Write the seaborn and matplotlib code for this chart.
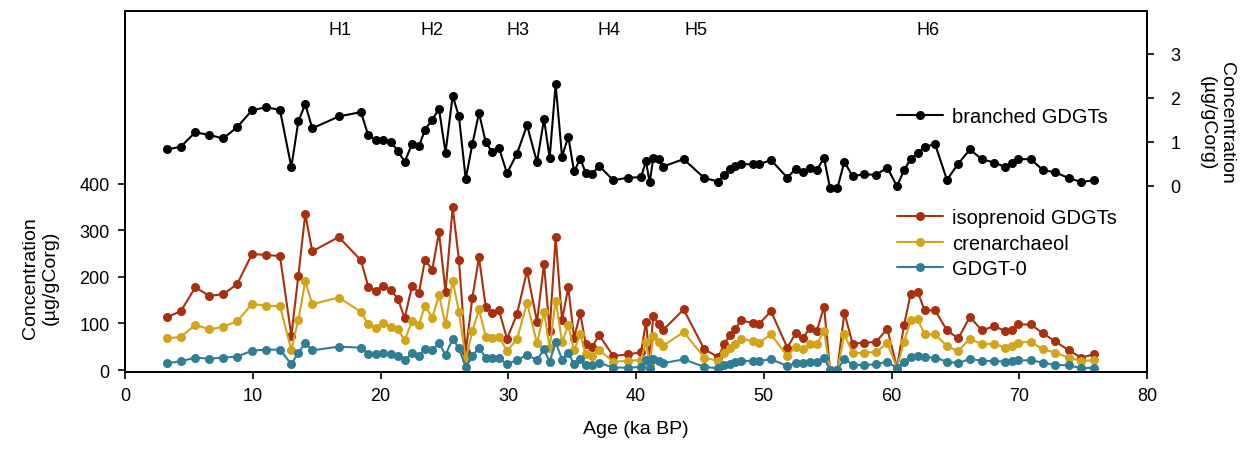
import numpy as np
import pandas as pd
import matplotlib
matplotlib.use("Agg")
import matplotlib.pyplot as plt
import seaborn as sns

age = [3.26, 4.36, 5.50, 6.60, 7.69, 8.79, 9.94, 11.04, 12.13, 13.02,
       13.57, 14.11, 14.66, 16.73, 18.47, 19.04, 19.62, 20.22, 20.80, 21.35,
       21.89, 22.47, 23.01, 23.48, 24.05, 24.58, 25.09, 25.65, 26.14, 26.67,
       27.19, 27.71, 28.24, 28.75, 29.28, 29.90, 30.68, 31.47, 32.25, 32.80,
       33.24, 33.71, 34.21, 34.70, 35.15, 35.64, 36.06, 36.58, 37.10, 38.22,
       39.40, 40.39, 40.78, 41.07, 41.35, 41.78, 42.09, 43.73, 45.35, 46.44,
       46.91, 47.36, 47.75, 48.22, 49.18, 49.60, 50.57, 51.84, 52.50, 53.05,
       53.62, 54.15, 54.72, 55.19, 55.76, 56.31, 56.96, 57.87, 58.79, 59.67,
       60.43, 60.98, 61.50, 62.05, 62.60, 63.41, 64.34, 65.23, 66.14, 67.06,
       68.05, 68.91, 69.41, 69.88, 70.90, 71.86, 72.82, 73.87, 74.86, 75.85]

branched = [0.83, 0.89, 1.22, 1.16, 1.08, 1.34, 1.72, 1.79, 1.73, 0.43,
            1.47, 1.86, 1.31, 1.58, 1.68, 1.15, 1.05, 1.05, 1.01, 0.80,
            0.55, 0.95, 0.90, 1.28, 1.51, 1.75, 0.76, 2.05, 1.58, 0.16,
            0.95, 1.66, 0.99, 0.77, 0.86, 0.29, 0.73, 1.38, 0.54, 1.52,
            0.64, 2.31, 0.67, 1.12, 0.33, 0.62, 0.30, 0.27, 0.46, 0.13,
            0.19, 0.20, 0.56, 0.08, 0.63, 0.61, 0.44, 0.61, 0.18, 0.10,
            0.26, 0.39, 0.46, 0.50, 0.49, 0.49, 0.59, 0.19, 0.39, 0.31,
            0.40, 0.37, 0.63, -0.05, -0.05, 0.55, 0.22, 0.27, 0.25, 0.42,
            -0.01, 0.36, 0.61, 0.75, 0.89, 0.95, 0.14, 0.51, 0.83, 0.61,
            0.53, 0.43, 0.52, 0.61, 0.61, 0.36, 0.31, 0.18, 0.09, 0.13]

isoprenoid = [113.6, 126.0, 177.3, 159.5, 162.4, 184.9, 249.0, 246.8, 244.7, 73.7,
              202.6, 334.4, 254.6, 285.3, 235.4, 179.1, 170.6, 181.3, 171.3, 153.5,
              111.5, 180.4, 166.0, 236.1, 215.4, 295.2, 168.3, 349.4, 236.1, 38.8,
              154.9, 241.8, 135.0, 121.4, 127.8, 67.3, 119.3, 213.3, 103.6, 228.3,
              83.6, 284.5, 107.2, 177.6, 69.4, 121.4, 56.6, 49.5, 75.2, 30.3,
              33.8, 38.1, 103.0, 23.1, 115.7, 97.9, 85.1, 130.0, 44.5, 28.1,
              55.9, 75.8, 87.2, 107.2, 100.1, 97.9, 126.4, 48.1, 78.7, 68.0,
              90.7, 83.6, 135.6, 0.5, 0.5, 122.8, 56.6, 58.8, 60.2, 88.7,
              5.3, 95.7, 163.5, 167.1, 127.8, 128.5, 85.1, 68.0, 114.3, 85.1,
              94.3, 83.6, 85.8, 97.9, 97.9, 78.7, 61.6, 42.4, 26.7, 33.8]

crenarchaeol = [68.0, 70.9, 97.2, 87.2, 92.9, 105.0, 142.0, 137.8, 137.1, 43.0,
                108.3, 190.2, 141.3, 155.6, 125.0, 97.9, 90.7, 100.7, 92.1, 87.2,
                64.3, 105.0, 97.2, 138.5, 112.2, 160.6, 97.9, 191.9, 125.0, 23.1,
                83.6, 130.0, 71.6, 69.4, 70.9, 41.0, 65.8, 144.2, 57.3, 125.0,
                47.6, 149.2, 60.2, 95.7, 42.4, 76.6, 33.8, 30.3, 43.0, 18.2,
                19.6, 21.7, 60.9, 12.5, 72.3, 60.2, 51.6, 81.6, 26.7, 19.6,
                37.4, 46.6, 55.2, 67.6, 61.6, 58.1, 76.6, 30.3, 49.5, 44.5,
                55.2, 55.2, 83.6, 0.3, 0.3, 76.6, 36.7, 37.4, 38.8, 57.3,
                5.3, 60.9, 106.4, 108.6, 76.6, 76.6, 51.6, 40.9, 67.6, 55.2,
                56.6, 47.6, 51.6, 58.8, 60.9, 44.5, 37.4, 26.7, 19.6, 21.0]

gdgt0 = [14.6, 18.9, 26.7, 24.6, 26.7, 29.0, 41.7, 43.9, 43.9, 12.5,
         37.4, 57.3, 42.4, 50.2, 48.1, 35.3, 35.3, 36.0, 34.5, 29.6,
         20.8, 35.6, 30.6, 44.6, 42.4, 58.4, 32.3, 67.6, 46.6, 6.8,
         30.3, 48.1, 26.7, 25.3, 25.3, 12.5, 21.7, 32.4, 21.7, 44.6,
         17.4, 60.2, 22.4, 37.4, 12.5, 23.1, 11.0, 10.3, 16.0, 5.3,
         5.3, 6.8, 20.8, 3.9, 23.1, 19.6, 14.6, 23.1, 6.8, 3.9,
         10.3, 13.9, 17.4, 19.6, 19.6, 19.6, 23.1, 9.0, 14.6, 14.6,
         16.7, 18.2, 26.7, 0.2, 0.2, 24.6, 11.0, 11.0, 12.5, 18.2,
         3.9, 18.2, 28.1, 29.6, 28.1, 26.7, 18.2, 14.6, 24.6, 19.6,
         19.6, 18.2, 19.6, 21.0, 21.0, 16.0, 11.0, 10.3, 3.9, 5.3]

event_labels = ["H1", "H2", "H3", "H4", "H5", "H6"]
event_ages = [16.8, 24.0, 30.8, 37.9, 44.7, 62.9]

left_names = ["isoprenoid GDGTs", "crenarchaeol", "GDGT-0"]
left_colors = ["#A8300E", "#D4A418", "#2F7E96"]

sns.set_style("ticks")
plt.rcParams["font.family"] = ["Liberation Sans", "DejaVu Sans"]
plt.rcParams["text.color"] = "black"
plt.rcParams["axes.labelcolor"] = "black"
plt.rcParams["xtick.color"] = "black"
plt.rcParams["ytick.color"] = "black"

df_left = pd.DataFrame({
    "age": age * 3,
    "value": isoprenoid + crenarchaeol + gdgt0,
    "series": [left_names[0]] * len(age) + [left_names[1]] * len(age) + [left_names[2]] * len(age),
})
df_right = pd.DataFrame({"age": age, "value": branched, "series": ["branched GDGTs"] * len(age)})

MS = 6.5
LW = 1.5

fig = plt.figure(figsize=(12.4, 4.56), dpi=100)
ax = fig.add_axes([125 / 1240, 1 - 372.5 / 456, (1147 - 125) / 1240, (372.5 - 12) / 456])
ax2 = ax.twinx()

sns.lineplot(data=df_left, x="age", y="value", hue="series", hue_order=left_names,
             palette=left_colors, marker="o", markersize=MS, markeredgewidth=0,
             linewidth=LW, ax=ax, sort=False, legend=False)
sns.lineplot(data=df_right, x="age", y="value", color="black", marker="o",
             markersize=MS, markeredgewidth=0, linewidth=LW, ax=ax2, sort=False,
             legend=False)

ax.set_xlim(0, 80)
ax.set_ylim(-3, 770)
ax.set_yticks([0, 100, 200, 300, 400])
ax.set_xticks(range(0, 81, 10))
ax2.set_ylim(-4.216, 3.977)
ax2.set_yticks([0, 1, 2, 3])

for a in (ax, ax2):
    for s in a.spines.values():
        s.set_visible(True)
        s.set_color("black")
        s.set_linewidth(1.3)
    a.tick_params(direction="out", length=5, width=1.2, labelsize=13, colors="black")
ax.tick_params(axis="y", pad=6)
ax2.tick_params(axis="y", pad=12)
ax.tick_params(axis="x", pad=6)

ax.set_xlabel("Age (ka BP)", fontsize=14, labelpad=12, color="black")
ax.set_ylabel("")
ax2.set_ylabel("")
fig.text(40 / 1240, 1 - 278 / 456, "Concentration\n(µg/gCorg)", rotation=90,
         ha="center", va="center", fontsize=14, multialignment="center", color="black")
fig.text(1217 / 1240, 1 - 123 / 456, "Concentration\n(µg/gCorg)", rotation=270,
         ha="center", va="center", fontsize=14, multialignment="center", color="black")

trans = matplotlib.transforms.blended_transform_factory(ax.transData, ax.transAxes)
for lab, a in zip(event_labels, event_ages):
    ax.text(a, 0.95, lab, transform=trans, ha="center", va="center", fontsize=13, color="black")

h_left = [matplotlib.lines.Line2D([], [], color=c, marker="o", markersize=MS,
                                  markeredgewidth=0, linewidth=LW) for c in left_colors]
leg1 = fig.legend(h_left, left_names, loc="upper left", bbox_to_anchor=(889 / 1240, 1 - 201 / 456),
                  frameon=False, fontsize=14.5, handlelength=2.3, labelspacing=0.33,
                  handletextpad=0.45, borderaxespad=0)
h_right = [matplotlib.lines.Line2D([], [], color="black", marker="o", markersize=MS,
                                   markeredgewidth=0, linewidth=LW)]
leg2 = fig.legend(h_right, ["branched GDGTs"], loc="upper left",
                  bbox_to_anchor=(889 / 1240, 1 - 100 / 456), frameon=False, fontsize=14.5,
                  handlelength=2.3, handletextpad=0.45, borderaxespad=0)
for lg in (leg1, leg2):
    for t in lg.get_texts():
        t.set_color("black")

fig.savefig("out.png", dpi=100, facecolor="white")
